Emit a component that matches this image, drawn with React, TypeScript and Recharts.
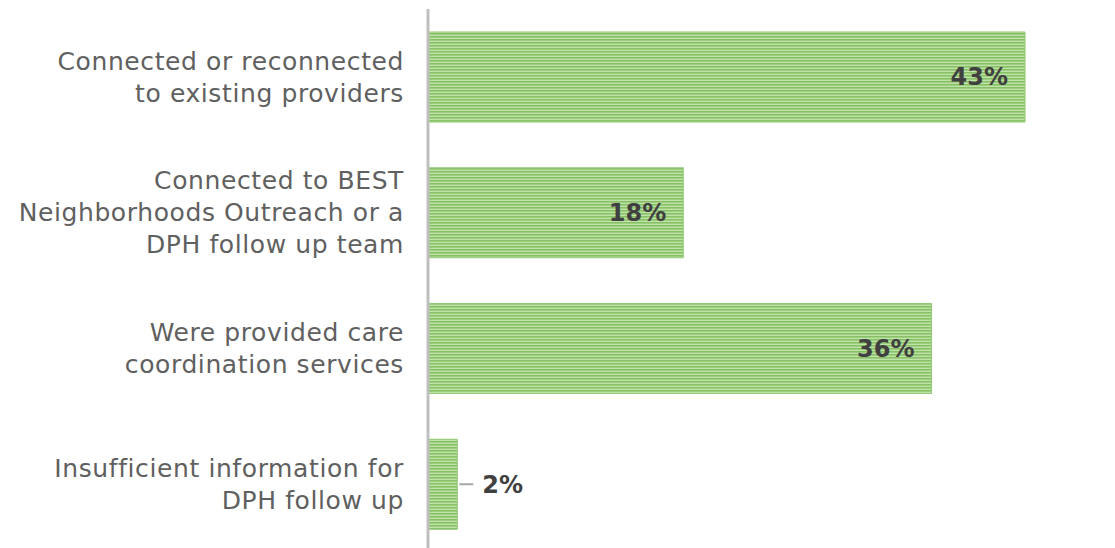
import { BarChart, Bar, XAxis, YAxis, LabelList } from 'recharts'

const categories = [
  'Connected or reconnected\nto existing providers',
  'Connected to BEST\nNeighborhoods Outreach or a\nDPH follow up team',
  'Were provided care\ncoordination services',
  'Insufficient information for\nDPH follow up',
]
const shares = [42.8, 18.3, 36.1, 2.1]
const shareLabels = ['43%', '18%', '36%', '2%']

const data = categories.map((name, i) => ({ name, share: shares[i], label: shareLabels[i] }))

const FONT = '"DejaVu Sans", sans-serif'

function CategoryTick({ x, y, payload }: any) {
  const lines: string[] = String(payload.value).split('\n')
  const lh = 32
  const start = y - ((lines.length - 1) * lh) / 2
  const tx = x - 16
  return (
    <text x={tx} y={start} textAnchor="end" fill="#606060" fontSize={25} letterSpacing={0.6} fontFamily={FONT}>
      {lines.map((l, i) => (
        <tspan key={i} x={tx} y={start + i * lh} dy="0.35em">
          {l}
        </tspan>
      ))}
    </text>
  )
}

function ValueLabel({ x, y, width, height, value }: any) {
  const cy = y + height / 2
  if (width < 60) {
    return (
      <g>
        <line x1={x + width + 2} x2={x + width + 16} y1={cy} y2={cy} stroke="#a6a6a6" strokeWidth={2} />
        <text x={x + width + 25} y={cy} dy="0.35em" fill="#404040" fontSize={24} fontWeight="bold" fontFamily={FONT}>
          {value}
        </text>
      </g>
    )
  }
  return (
    <text x={x + width - 17} y={cy} dy="0.35em" textAnchor="end" fill="#404040" fontSize={24} fontWeight="bold" fontFamily={FONT}>
      {value}
    </text>
  )
}

export default function App() {
  return (
    <div style={{ position: 'absolute', left: 0, top: 0, width: 1115, height: 548, overflow: 'hidden', background: '#fff' }}>
      <BarChart
        width={1115}
        height={552}
        data={data}
        layout="vertical"
        margin={{ top: 9, right: 0, bottom: 0, left: 0 }}
      >
        <defs>
          <pattern id="stripes" patternUnits="userSpaceOnUse" width={6} height={3}>
            <rect x={0} y={0} width={6} height={3} fill="#c0e1aa" />
            <rect x={0} y={0} width={6} height={1.6} fill="#86c164" />
          </pattern>
        </defs>
        <XAxis type="number" hide domain={[0, 49.25]} />
        <YAxis
          type="category"
          dataKey="name"
          width={428}
          tick={<CategoryTick />}
          tickLine={false}
          axisLine={{ stroke: '#bfbfbf', strokeWidth: 3 }}
          interval={0}
        />
        <Bar dataKey="share" barSize={90} fill="url(#stripes)" stroke="#92c873" strokeWidth={1} isAnimationActive={false}>
          <LabelList dataKey="label" content={<ValueLabel />} />
        </Bar>
      </BarChart>
    </div>
  )
}
